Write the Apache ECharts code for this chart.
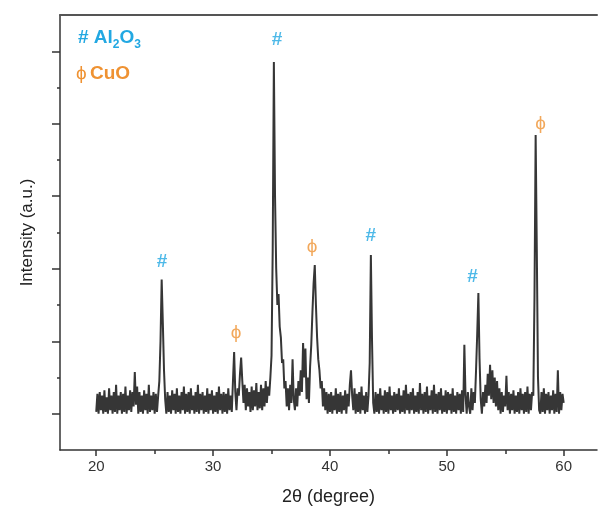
<!DOCTYPE html>
<html>
<head>
<meta charset="utf-8">
<script src="https://cdn.jsdelivr.net/npm/echarts@6/dist/echarts.min.js"></script>
<style>html,body{margin:0;padding:0;background:#fff;}#c{width:598px;height:511px;}</style>
</head>
<body>
<div id="c"></div>
<script>
// 2-theta sampling: start 20.0, step 0.1 degree
const thetaStart = 20.0;
const thetaStep = 0.1;
// Intensity (a.u.), one row per degree, 10 samples each
const intensity = [
 1.05,1.55,1.0,1.6,1.1,1.5,1.0,1.65,1.05,1.45,   // 20
 1.0,1.7,1.1,1.5,1.0,1.6,1.05,1.8,1.0,1.5,       // 21
 1.1,1.6,1.0,1.55,1.05,1.75,1.0,1.5,1.1,1.65,    // 22
 1.05,1.6,1.2,2.15,1.25,1.75,1.0,1.6,1.05,1.5,   // 23
 1.0,1.65,1.1,1.55,1.0,1.8,1.05,1.5,1.1,1.6,     // 24
 1.0,1.55,1.05,1.5,1.9,3.0,4.7,3.5,2.2,1.4,      // 25
 1.0,1.6,1.05,1.5,1.0,1.65,1.1,1.55,1.0,1.7,     // 26
 1.05,1.5,1.0,1.6,1.1,1.75,1.0,1.55,1.05,1.6,    // 27
 1.0,1.7,1.1,1.5,1.0,1.6,1.05,1.8,1.0,1.55,      // 28
 1.1,1.6,1.0,1.5,1.05,1.7,1.0,1.55,1.1,1.65,     // 29
 1.0,1.5,1.05,1.6,1.0,1.75,1.1,1.55,1.0,1.6,     // 30
 1.05,1.55,1.0,1.7,1.1,1.5,1.05,1.9,2.7,1.6,     // 31
 1.1,1.7,1.5,2.1,2.55,1.9,1.3,1.8,1.1,1.7,       // 32
 1.2,1.6,1.05,1.75,1.1,1.65,1.2,1.85,1.1,1.6,    // 33
 1.15,1.8,1.1,1.7,1.2,1.9,1.3,1.75,1.5,2.0,      // 34
 2.6,5.5,10.7,7.0,5.0,4.0,4.3,3.4,3.1,2.4,       // 35
 2.5,1.7,1.9,1.2,1.7,1.1,1.8,1.3,2.5,1.4,        // 36
 1.1,1.7,1.2,1.9,1.5,2.2,1.6,2.95,2.0,2.8,       // 37
 1.4,2.0,1.3,2.3,2.9,3.8,4.6,5.1,4.0,3.1,        // 38
 2.5,2.2,1.7,1.9,1.2,1.7,1.1,1.6,1.0,1.55,       // 39
 1.05,1.6,1.0,1.5,1.1,1.7,1.0,1.55,1.05,1.6,     // 40
 1.0,1.5,1.1,1.65,1.0,1.55,1.2,1.8,2.2,1.5,      // 41
 1.1,1.7,1.0,1.55,1.05,1.6,1.0,1.75,1.1,1.5,     // 42
 1.0,1.6,1.05,1.5,2.4,5.38,3.0,1.3,1.0,1.6,      // 43
 1.05,1.55,1.0,1.7,1.1,1.5,1.0,1.65,1.05,1.6,    // 44
 1.0,1.75,1.1,1.5,1.0,1.6,1.05,1.55,1.1,1.7,     // 45
 1.0,1.5,1.05,1.65,1.0,1.8,1.1,1.55,1.0,1.6,     // 46
 1.1,1.7,1.0,1.5,1.05,1.6,1.0,1.85,1.1,1.55,     // 47
 1.0,1.6,1.05,1.75,1.0,1.5,1.1,1.65,1.0,1.8,     // 48
 1.05,1.55,1.0,1.6,1.1,1.7,1.0,1.5,1.05,1.65,    // 49
 1.0,1.6,1.1,1.55,1.0,1.7,1.05,1.5,1.0,1.6,      // 50
 1.1,1.55,1.0,1.65,1.05,2.9,1.5,1.0,1.6,1.2,     // 51
 1.0,1.7,1.1,1.6,1.3,2.2,3.2,4.33,2.5,1.4,       // 52
 1.0,1.6,1.2,1.8,1.3,2.1,1.5,2.35,1.4,2.2,       // 53
 1.3,2.0,1.2,1.9,1.1,1.7,1.0,1.6,1.05,1.5,       // 54
 1.2,2.05,1.1,1.6,1.0,1.55,1.1,1.65,1.0,1.5,     // 55
 1.05,1.6,1.0,1.7,1.1,1.55,1.0,1.6,1.05,1.75,    // 56
 1.0,1.55,1.1,1.6,1.5,4.2,8.69,5.5,2.0,1.1,      // 57
 1.0,1.6,1.05,1.7,1.0,1.55,1.1,1.6,1.0,1.5,      // 58
 1.1,1.65,1.0,1.55,1.05,2.2,1.0,1.6,1.1,1.55,    // 59
 1.3                                             // 60
];
// Peak markers (Al2O3: '#', CuO: 'ϕ')
const al2o3MarkX = [25.64, 35.47, 43.5, 52.2];
const al2o3MarkY = [5.19, 11.31, 5.9, 4.77];
const cuoMarkX = [31.97, 38.46, 58.03];
const cuoMarkY = [3.23, 5.6, 9.0];
// Axis ticks
const xMajorTicks = [20, 30, 40, 50, 60];
const xMinorTicks = [25, 35, 45, 55];
const yMajorTicks = [1, 3, 5, 7, 9, 11];
const yMinorTicks = [2, 4, 6, 8, 10];

const BLUE = '#22a8e2';
const ORANGE = '#ef9232';
const AXIS = '#333333';
const FONT = '"Liberation Sans", Arial, sans-serif';

const lineData = intensity.map((v, i) => [Math.round((thetaStart + i * thetaStep) * 10) / 10, v]);
const al2o3Data = al2o3MarkX.map((x, i) => [x, al2o3MarkY[i]]);
const cuoData = cuoMarkX.map((x, i) => [x, cuoMarkY[i]]);

const chart = echarts.init(document.getElementById('c'), null, {renderer: 'canvas'});
const xCommon = {type: 'value', min: 16.9, max: 62.85, splitLine: {show: false}};
const yCommon = {type: 'value', min: 0, max: 12, splitLine: {show: false}};
chart.setOption({
  animation: false,
  backgroundColor: '#fff',
  grid: {left: 60, right: 1, top: 15, bottom: 61, containLabel: false},
  xAxis: [
    Object.assign({}, xCommon, {
      position: 'bottom',
      name: '2θ (degree)', nameLocation: 'middle', nameGap: 38,
      nameTextStyle: {fontSize: 18, color: '#222', fontFamily: FONT},
      axisLine: {show: true, lineStyle: {color: AXIS, width: 1.5}},
      axisTick: {show: true, customValues: xMajorTicks, length: 6, lineStyle: {color: AXIS, width: 1.5}},
      axisLabel: {show: true, customValues: xMajorTicks, fontSize: 15, color: '#333', margin: 9, fontFamily: FONT}
    }),
    Object.assign({}, xCommon, {
      position: 'bottom',
      axisLine: {show: false},
      axisTick: {show: true, customValues: xMinorTicks, length: 4, lineStyle: {color: AXIS, width: 1.5}},
      axisLabel: {show: false}
    }),
    Object.assign({}, xCommon, {
      position: 'top',
      axisLine: {show: true, lineStyle: {color: '#555', width: 2}},
      axisTick: {show: false},
      axisLabel: {show: false}
    })
  ],
  yAxis: [
    Object.assign({}, yCommon, {
      position: 'left',
      name: 'Intensity (a.u.)', nameLocation: 'middle', nameGap: 24, nameRotate: 90,
      nameTextStyle: {fontSize: 17, color: '#222', fontFamily: FONT},
      axisLine: {show: true, lineStyle: {color: AXIS, width: 1.5}},
      axisTick: {show: true, customValues: yMajorTicks, length: 8, lineStyle: {color: AXIS, width: 1.5}},
      axisLabel: {show: false}
    }),
    Object.assign({}, yCommon, {
      position: 'left',
      axisLine: {show: false},
      axisTick: {show: true, customValues: yMinorTicks, length: 3, lineStyle: {color: AXIS, width: 1.5}},
      axisLabel: {show: false}
    })
  ],
  series: [
    {
      type: 'line', xAxisIndex: 0, yAxisIndex: 0,
      data: lineData, showSymbol: false, symbol: 'none', sampling: null,
      lineStyle: {color: '#363636', width: 2, join: 'bevel'}, z: 2
    },
    {
      type: 'scatter', xAxisIndex: 0, yAxisIndex: 0,
      data: al2o3Data, symbolSize: 0, silent: true,
      label: {show: true, position: 'inside', formatter: '#', fontSize: 19, fontWeight: 'bold', color: BLUE, fontFamily: FONT},
      z: 3
    },
    {
      type: 'scatter', xAxisIndex: 0, yAxisIndex: 0,
      data: cuoData, symbolSize: 0, silent: true,
      label: {show: true, position: 'inside', formatter: 'ϕ', fontSize: 19, color: ORANGE, fontFamily: FONT},
      z: 3
    }
  ],
  graphic: [
    {
      type: 'text', left: 78, top: 28,
      style: {
        text: '{b|# Al}{s|2}{b|O}{s|3}',
        rich: {
          b: {fontSize: 19, fontWeight: 'bold', fill: BLUE, fontFamily: FONT, verticalAlign: 'bottom', lineHeight: 24},
          s: {fontSize: 12, fontWeight: 'bold', fill: BLUE, fontFamily: FONT, verticalAlign: 'bottom', lineHeight: 16, padding: [0, 0, -4, 0]}
        }
      }
    },
    {
      type: 'text', left: 76, top: 64,
      style: {
        text: '{p|ϕ} {b|CuO}',
        rich: {
          p: {fontSize: 19, fill: ORANGE, fontFamily: FONT},
          b: {fontSize: 19, fontWeight: 'bold', fill: ORANGE, fontFamily: FONT}
        }
      }
    }
  ]
});
</script>
</body>
</html>
